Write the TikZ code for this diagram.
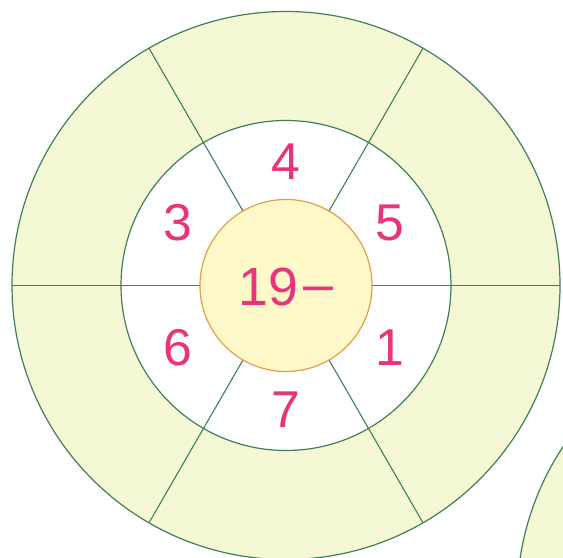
\documentclass[tikz,border=0pt]{standalone}
\usepackage{fontspec}
\setmainfont{Liberation Sans}
\usetikzlibrary{positioning}

\definecolor{ringgreen}{RGB}{244,248,212}
\definecolor{linegreen}{RGB}{66,126,86}
\definecolor{coreyellow}{RGB}{255,249,202}
\definecolor{coreorange}{RGB}{230,158,70}
\definecolor{numpink}{RGB}{232,52,122}

\tikzset{
  ring/.style={draw=linegreen, line width=1.2pt},
  spoke/.style={draw=linegreen, line width=1.1pt},
  num/.style={text=numpink, font=\fontsize{52}{60}\selectfont, inner sep=0pt},
}

\begin{document}
\begin{tikzpicture}[x=1bp, y=1bp]
\coordinate (O) at (0,0);
\coordinate (N) at (509,-314.5);   % centre of the next wheel, off the page

\useasboundingbox (-286,-272.5) rectangle (277,285.5);
\clip (-286,-272.5) rectangle (277,285.5);

\fill[white] (-286,-272.5) rectangle (277,285.5);

\filldraw[ring, fill=ringgreen] (N) circle (278);
\filldraw[ring, fill=ringgreen] (O) circle (274);
\filldraw[ring, fill=white] (O) circle (165);

\draw[spoke] (0:86) -- (0:274);
\draw[spoke] (60:86) -- (60:274);
\draw[spoke] (120:86) -- (120:274);
\draw[spoke] (180:86) -- (180:274);
\draw[spoke] (240:86) -- (240:274);
\draw[spoke] (300:86) -- (300:274);

\filldraw[fill=coreyellow, draw=coreorange, line width=1.2pt] (O) circle (86);

\node[num] (n4) at (90:124) {4};
\node[num] (n5) at (31:121) {5};
\node[num] (n1) at (-31:121) {1};
\node[num] (n7) at (-90:124) {7};
\node[num] (n6) at (210:125) {6};
\node[num] (n3) at (150:125) {3};

\node[num, font=\fontsize{54}{60}\selectfont] (C) at (0,-1.5) {19\kern5bp\raisebox{3bp}{–}};

\end{tikzpicture}
\end{document}
